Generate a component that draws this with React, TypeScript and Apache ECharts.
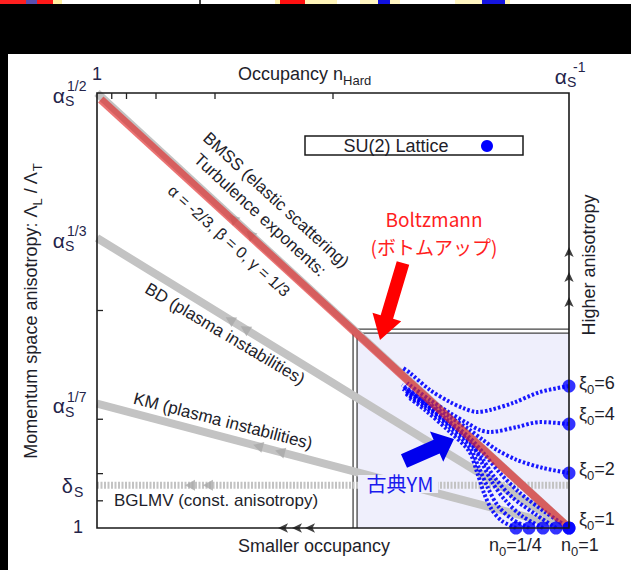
import React, { useEffect, useRef } from "react";
import * as echarts from "echarts";

// ---------- data (x: normalised log-occupancy 0..1, y: anisotropy exponent p in alpha_s^p) ----------
const topTickValues = [1 / 32, 1 / 16, 1 / 8, 1 / 4, 1 / 2];
const leftTickValues = [1 / 32, 1 / 16, 1 / 8, 1 / 4];
const powerLabels = [
  { value: 1 / 2, sup: "1/2" },
  { value: 1 / 3, sup: "1/3" },
  { value: 1 / 7, sup: "1/7" },
];
const deltaS = 0.049;

const bmssLine = [[0, 0.5], [1, 0]];
const bmssRed = [[0.008, 0.4925], [1, 0]];
const bdLine = [[0, 1 / 3], [1, 0]];
const kmLine = [[0, 1 / 7], [1, 0]];
const bglmvLine = [[0, deltaS], [1, deltaS]];

const xiNames = ["6", "4", "2", "1"];
const xiStartY = [0.1632, 0.1195, 0.0632, 0];
const n0StartX = [0.8877, 0.9153, 0.9449, 0.9725, 1.0];

const curveXi6 = [[1.0, 0.1632], [0.9386, 0.1563], [0.8814, 0.1437], [0.8326, 0.1356], [0.8051, 0.1333], [0.7754, 0.1379], [0.7479, 0.1448], [0.7055, 0.1586], [0.6631, 0.1782], [0.6483, 0.1839]];
const curveXi4 = [[1.0, 0.1195], [0.9386, 0.1218], [0.8898, 0.1161], [0.8326, 0.1103], [0.8114, 0.1126], [0.7839, 0.1207], [0.7479, 0.1322], [0.7055, 0.1471], [0.6568, 0.1667]];
const curveXi2 = [[1.0, 0.0632], [0.9449, 0.069], [0.8898, 0.0782], [0.8475, 0.0897], [0.8178, 0.1011], [0.7903, 0.1126], [0.7479, 0.1276], [0.6907, 0.1471], [0.6483, 0.1621]];
const curveN0a = [[1.0, 0], [0.9492, 0.0184], [0.8962, 0.0402], [0.8538, 0.0632], [0.822, 0.0839], [0.7903, 0.1034], [0.7373, 0.1264], [0.6843, 0.1494], [0.6462, 0.1644]];
const curveN0b = [[0.9725, 0], [0.928, 0.0161], [0.8792, 0.0356], [0.8432, 0.0575], [0.8157, 0.0805], [0.7903, 0.0989], [0.7373, 0.1241], [0.6843, 0.1471], [0.6483, 0.1598]];
const curveN0c = [[0.9449, 0], [0.9004, 0.0138], [0.8644, 0.0322], [0.8369, 0.0529], [0.8157, 0.0747], [0.7945, 0.0954], [0.7479, 0.1184], [0.6949, 0.1414], [0.6525, 0.1563]];
const curveN0d = [[0.9153, 0], [0.8792, 0.0103], [0.8496, 0.0253], [0.8284, 0.046], [0.8093, 0.069], [0.7903, 0.092], [0.7479, 0.1149], [0.6949, 0.1391], [0.6547, 0.154]];
const curveN0e = [[0.8877, 0], [0.8581, 0.008], [0.8369, 0.0207], [0.8199, 0.0402], [0.8051, 0.0644], [0.7881, 0.0885], [0.7479, 0.1103], [0.6949, 0.1356], [0.6589, 0.1506]];
const blueCurves = [curveXi6, curveXi4, curveXi2, curveN0a, curveN0b, curveN0c, curveN0d, curveN0e];

// faint direction arrows drawn on the grey lines: [x, y, rotation]
const greyArrows = [
  [0.2818, 0.2394, 59], [0.3136, 0.2288, 59],
  [0.3411, 0.0941, 75], [0.3877, 0.0875, 75],
  [0.197, 0.049, 90], [0.235, 0.049, 90],
  [0.2881, 0.356, 47], [0.3242, 0.3379, 47],
];
const upArrowsY = [0.323, 0.2943, 0.2655];
const leftArrowsX = [0.3835, 0.4131, 0.4407];

// lattice region (inner corner)
const boxX = 0.551;
const boxY = 0.224;

const FONT = "Liberation Sans, Arial, Helvetica, sans-serif";
const CJK = "Noto Sans CJK JP, Noto Sans, sans-serif";
const TEXT = "#1e1e2a";
const AXTEXT = "#24244a";

let ctx2d: CanvasRenderingContext2D | null = null;
function textWidth(t: string, size: number, family: string) {
  if (!ctx2d) ctx2d = document.createElement("canvas").getContext("2d");
  if (!ctx2d) return t.length * size * 0.55;
  ctx2d.font = `${size}px ${family}`;
  return ctx2d.measureText(t).width;
}

type Part = { t: string; s?: number; dy?: number };
function richText(parts: Part[], x: number, y: number, o: { size: number; align?: string; rotation?: number; fill?: string; family?: string; z?: number }) {
  const family = o.family ?? FONT;
  const widths = parts.map((p) => textWidth(p.t, p.s ?? o.size, family));
  const total = widths.reduce((a, b) => a + b, 0);
  let cx = o.align === "center" ? -total / 2 : o.align === "right" ? -total : 0;
  const z = o.z ?? 20;
  const children = parts.map((p, i) => {
    const el = {
      type: "text", x: cx, y: p.dy ?? 0, z, silent: true,
      style: { text: p.t, font: `${p.s ?? o.size}px ${family}`, fill: o.fill ?? TEXT, textAlign: "left", align: "left", textVerticalAlign: "middle", verticalAlign: "middle" },
    };
    cx += widths[i];
    return el;
  });
  return { type: "group", x, y, rotation: o.rotation ?? 0, z, children };
}

function txt(t: string, x: number, y: number, size: number, align: string, fill: string, family = FONT, z = 20) {
  return { type: "text", x, y, z, silent: true, style: { text: t, font: `${size}px ${family}`, fill, textAlign: align, align, textVerticalAlign: "middle", verticalAlign: "middle" } };
}

function powerLabel(base: string, sub: string, sup: string, xRight: number, y: number, supDx: number) {
  return [
    txt(base, xRight, y + 2, 21, "right", AXTEXT),
    txt(sub, xRight, y + 8, 14, "left", AXTEXT),
    ...(sup ? [txt(sup, xRight + supDx, y - 7, 14, "left", AXTEXT)] : []),
  ];
}

function arrowPoly(tx: number, ty: number, hx: number, hy: number, shaftW: number, headW: number, headL: number) {
  const dx = hx - tx, dy = hy - ty;
  const L = Math.hypot(dx, dy);
  const ux = dx / L, uy = dy / L;
  const nx = -uy, ny = ux;
  const bx = hx - ux * headL, by = hy - uy * headL;
  return [
    [tx + (nx * shaftW) / 2, ty + (ny * shaftW) / 2],
    [bx + (nx * shaftW) / 2, by + (ny * shaftW) / 2],
    [bx + (nx * headW) / 2, by + (ny * headW) / 2],
    [hx, hy],
    [bx - (nx * headW) / 2, by - (ny * headW) / 2],
    [bx - (nx * shaftW) / 2, by - (ny * shaftW) / 2],
    [tx - (nx * shaftW) / 2, ty - (ny * shaftW) / 2],
  ];
}

function line(data: number[][], color: string, width: number, type: any, z: number, opacity = 1, smooth: any = false) {
  return {
    type: "line", data, symbol: "none", showSymbol: false, smooth, silent: true, z, clip: false,
    lineStyle: { color, width, type, opacity, cap: "butt", join: "round" },
  };
}

export default function App() {
  const ref = useRef<HTMLDivElement>(null);
  useEffect(() => {
    const chart = echarts.init(ref.current!, null, { renderer: "svg" });
    const GREY = "#c3c3c3";
    const hiddenAxis = { axisLine: { show: false }, axisTick: { show: false }, axisLabel: { show: false }, splitLine: { show: false }, minorTick: { show: false } };
    const option: any = {
      animation: false,
      backgroundColor: "#ffffff",
      grid: { left: 97, top: 93, right: 62, bottom: 42 },
      xAxis: { type: "value", position: "top", min: 0, max: 1, ...hiddenAxis },
      yAxis: { type: "value", position: "left", min: 0, max: 0.5, ...hiddenAxis },
      series: [
        line(bdLine, GREY, 8, "solid", 2),
        line(kmLine, GREY, 8, "solid", 2),
        line(bglmvLine, GREY, 7, [2, 1.5], 2),
        line(bmssLine, GREY, 8, "solid", 2),
        {
          type: "scatter", silent: true, z: 2.5, clip: false, symbol: "triangle", symbolSize: [11, 10],
          itemStyle: { color: "#a9a9a9" },
          data: greyArrows.map((a) => ({ value: [a[0], a[1]], symbolRotate: a[2] })),
        },
        ...blueCurves.map((c) => line(c, "#0000ff", 4, [2.5, 2], 3, 0.9, 0.3)),
        line(bmssRed, "#e02828", 8, "solid", 4, 0.65),
        {
          type: "scatter", silent: true, z: 6, clip: false, symbolSize: 13,
          itemStyle: { color: "#0000ff" },
          data: [...xiStartY.map((y) => [1, y]), ...n0StartX.map((x) => [x, 0])],
        },
        {
          type: "scatter", silent: true, z: 7, clip: false, symbol: "arrow", symbolSize: [7, 10],
          itemStyle: { color: "#111" },
          data: upArrowsY.map((y) => ({ value: [1, y], symbolRotate: 0 })),
        },
        {
          type: "scatter", silent: true, z: 7, clip: false, symbol: "arrow", symbolSize: [7, 10],
          itemStyle: { color: "#111" },
          data: leftArrowsX.map((x) => ({ value: [x, 0], symbolRotate: 90 })),
        },
      ],
    };
    chart.setOption(option);

    const P = (x: number, y: number) => chart.convertToPixel({ gridIndex: 0 } as any, [x, y]) as number[];
    const [x0, yB] = P(0, 0);
    const [x1, yT] = P(1, 0.5);
    const [bx, by] = P(boxX, boxY);

    const g: any[] = [];
    // top strip fragments
    const strip: [number, number, string][] = [
      [0, 26, "#ff2020"], [26, 37, "#5a4fb0"], [37, 53, "#ff1818"], [53, 62, "#fff0a0"],
      [199, 201, "#444"], [275, 280, "#fff3b0"], [280, 305, "#ff1010"], [305, 337, "#fff4b8"],
      [360, 378, "#fff5c0"], [378, 390, "#1010e0"], [390, 400, "#fff5c0"],
      [455, 482, "#fff5c0"], [482, 505, "#1515e0"], [505, 510, "#fff3b0"],
    ];
    strip.forEach(([a, b, c]) => g.push({ type: "rect", z: 0, silent: true, shape: { x: a, y: 0, width: b - a, height: 4 }, style: { fill: c } }));
    g.push({ type: "rect", z: 0, silent: true, shape: { x: 0, y: 4, width: 631, height: 50 }, style: { fill: "#000" } });
    g.push({ type: "rect", z: 0, silent: true, shape: { x: 0, y: 54, width: 8, height: 516 }, style: { fill: "#000" } });

    // lattice region
    g.push({ type: "rect", z: 1, silent: true, shape: { x: bx, y: by, width: x1 - bx, height: yB - by }, style: { fill: "#efeffc" } });
    g.push({ type: "polyline", z: 1, silent: true, shape: { points: [[bx, yB], [bx, by], [x1, by]] }, style: { stroke: "#444", lineWidth: 1.3, fill: "none" } });
    g.push({ type: "polyline", z: 1, silent: true, shape: { points: [[bx - 4, yB], [bx - 4, by - 4], [x1, by - 4]] }, style: { stroke: "#444", lineWidth: 1.3, fill: "none" } });

    // frame and inward ticks
    g.push({ type: "rect", z: 20, silent: true, shape: { x: x0, y: yT, width: x1 - x0, height: yB - yT }, style: { stroke: "#1a1a1a", lineWidth: 1.6, fill: "none" } });
    topTickValues.forEach((v) => {
      const [px] = P(v, 0.5);
      g.push({ type: "line", z: 20, silent: true, shape: { x1: px, y1: yT, x2: px, y2: yT + 6 }, style: { stroke: "#222", lineWidth: 1.3 } });
    });
    leftTickValues.forEach((v) => {
      const [, py] = P(0, v);
      g.push({ type: "line", z: 20, silent: true, shape: { x1: x0, y1: py, x2: x0 + 6, y2: py }, style: { stroke: "#222", lineWidth: 1.3 } });
    });

    // legend
    g.push({ type: "rect", z: 20, silent: true, shape: { x: 305, y: 136, width: 218, height: 19 }, style: { stroke: "#1a1a1a", lineWidth: 1.5, fill: "#fff" } });
    g.push(txt("SU(2) Lattice", 396, 146, 18, "center", TEXT, FONT, 21));
    g.push({ type: "circle", z: 21, silent: true, shape: { cx: 487, cy: 146, r: 6 }, style: { fill: "#0000ff" } });

    // axis labels
    powerLabels.forEach((pl) => {
      const [, py] = P(0, pl.value);
      g.push(...powerLabel("α", "S", pl.sup, 65, py, 2));
    });
    {
      const [, py] = P(0, deltaS);
      g.push(txt("δ", 73, py + 1, 20, "right", AXTEXT));
      g.push(txt("S", 74, py + 7, 14, "left", AXTEXT));
      g.push(txt("1", 78, yB - 1, 18, "center", AXTEXT));
      g.push(txt("1", x0, 74, 18, "center", AXTEXT));
      g.push(...powerLabel("α", "S", "-1", 567, 74, 6));
    }
    g.push(richText([{ t: "Occupancy n" }, { t: "Hard", s: 13, dy: 6 }], 238, 74, { size: 18 }));
    g.push(richText([{ t: "Momentum space anisotropy: Λ" }, { t: "L", s: 13, dy: 6 }, { t: " / Λ" }, { t: "T", s: 13, dy: 6 }], 31, 311, { size: 18, align: "center", rotation: Math.PI / 2 }));
    g.push(txt("Higher anisotropy", 589, 265, 18, "center", TEXT));
    g[g.length - 1].rotation = Math.PI / 2;
    g.push(txt("Smaller occupancy", 238, 546, 18, "left", TEXT));

    const xiLabelY = [383, 414, 469, 519];
    xiNames.forEach((n, i) => g.push(richText([{ t: "ξ" }, { t: "0", s: 13, dy: 6 }, { t: "=" + n }], 579, xiLabelY[i], { size: 18 })));
    g.push(richText([{ t: "n" }, { t: "0", s: 13, dy: 6 }, { t: "=1/4" }], 489, 545, { size: 18 }));
    g.push(richText([{ t: "n" }, { t: "0", s: 13, dy: 6 }, { t: "=1" }], 561, 545, { size: 18 }));

    // line annotations
    const r43 = (-42.5 * Math.PI) / 180;
    g.push(richText([{ t: "BMSS (elastic scattering)" }], 276, 200, { size: 17, align: "center", rotation: r43 }));
    g.push(richText([{ t: "Turbulence exponents:" }], 260, 215, { size: 17, align: "center", rotation: r43 }));
    g.push(richText([{ t: "α = -2/3, β = 0, γ = 1/3" }], 229, 241, { size: 16, align: "center", rotation: (-42 * Math.PI) / 180 }));
    g.push(richText([{ t: "BD (plasma instabilities)" }], 225, 334, { size: 17, align: "center", rotation: (-30.8 * Math.PI) / 180 }));
    g.push(richText([{ t: "KM (plasma instabilities)" }], 223, 421, { size: 17, align: "center", rotation: (-14.4 * Math.PI) / 180 }));
    g.push(txt("BGLMV (const. anisotropy)", 216, 500, 17, "center", TEXT));

    // added annotations
    g.push(txt("Boltzmann", 434, 218, 19, "center", "#ff1f1f", CJK));
    g.push(txt("(ボトムアップ)", 434, 246, 19, "center", "#ff1f1f", CJK));
    g.push({ type: "polygon", z: 22, silent: true, shape: { points: arrowPoly(403, 263, 380, 340, 13, 30, 24) }, style: { fill: "#ff0000" } });
    g.push({ type: "rect", z: 15, silent: true, shape: { x: bx + 1, y: 475, width: 80, height: 18 }, style: { fill: "#efeffc" } });
    g.push(txt("古典YM", 400, 483, 20, "center", "#1a1aee", CJK));
    g.push({ type: "polygon", z: 22, silent: true, shape: { points: arrowPoly(404, 461, 454, 439, 15, 33, 19) }, style: { fill: "#0000ee" } });

    chart.setOption({ graphic: { elements: g } });
    return () => chart.dispose();
  }, []);
  return <div ref={ref} style={{ position: "absolute", left: 0, top: 0, width: 631, height: 570 }} />;
}
